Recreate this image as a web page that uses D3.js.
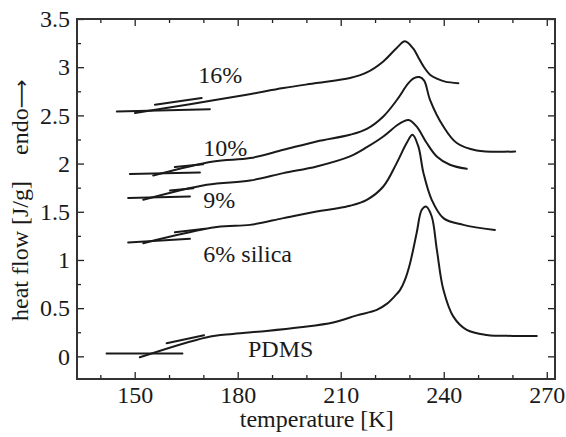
<!DOCTYPE html>
<html><head><meta charset="utf-8">
<script src="https://cdn.jsdelivr.net/npm/d3@7"></script>
<style>
html,body{margin:0;padding:0;background:#fff;}
svg text{font-family:"Liberation Serif","Times New Roman",serif;fill:#1a1a1a;}
</style></head>
<body><svg id="c" width="566" height="437"></svg>
<script>
// ---- data (temperature K, heat flow J/g) ----
const xTicks = [150, 180, 210, 240, 270];
const yTicks = [0, 0.5, 1, 1.5, 2, 2.5, 3, 3.5];
const xLabel = "temperature [K]";
const yLabel = "heat flow [J/g]";
const yLabel2 = "endo";
const yArrow = "\u27F6";
const seriesNames = ["PDMS", "6% silica", "9%", "10%", "16%"];

const pdmsFlat = [[141.8, 0.03], [163.9, 0.03]];
const pdmsBar = [[159.3, 0.136], [170.2, 0.219]];
const pdmsCurve = [[151.5, -0.01], [170.8, 0.196], [178.6, 0.233], [188.4, 0.264], [198.2, 0.302], [207.8, 0.352], [214.7, 0.425], [220.5, 0.482], [223.4, 0.544], [225.8, 0.627], [227.3, 0.69], [228.7, 0.794], [230.2, 0.967], [232.1, 1.278], [233.6, 1.52], [234.85, 1.555], [236.5, 1.451], [238.0, 1.105], [239.9, 0.69], [242.8, 0.412], [246.7, 0.274], [252.5, 0.222], [260.3, 0.212], [267.1, 0.212]];

const s6Flat = [[148.1, 1.181], [166.1, 1.219]];
const s6Bar = [[161.7, 1.287], [170.5, 1.323]];
const s6Curve = [[152.5, 1.174], [173.9, 1.341], [183.6, 1.364], [193.3, 1.434], [203.0, 1.503], [208.3, 1.531], [212.7, 1.562], [217.6, 1.624], [222.4, 1.762], [226.3, 2.005], [229.2, 2.213], [230.9, 2.299], [232.6, 2.178], [234.1, 1.901], [236.5, 1.624], [239.9, 1.434], [245.7, 1.364], [254.9, 1.312]];

const s9Flat = [[148.1, 1.642], [166.1, 1.658]];
const s9Bar = [[160.3, 1.72], [167.1, 1.745]];
const s9Curve = [[152.5, 1.624], [171.0, 1.78], [183.6, 1.824], [193.3, 1.901], [203.0, 1.97], [212.7, 2.074], [217.6, 2.17], [222.4, 2.281], [226.3, 2.395], [228.15, 2.436], [230.0, 2.45], [232.1, 2.385], [235.05, 2.213], [237.96, 2.074], [241.8, 1.988], [246.7, 1.946]];

const s10Flat = [[148.6, 1.891], [169.0, 1.908]];
const s10Bar = [[161.7, 1.964], [169.9, 1.993]];
const s10Curve = [[155.4, 1.876], [172.9, 2.022], [183.6, 2.057], [193.3, 2.143], [203.0, 2.23], [212.7, 2.299], [217.6, 2.36], [222.4, 2.489], [226.4, 2.662], [229.6, 2.829], [231.35, 2.886], [232.9, 2.898], [234.3, 2.86], [236.0, 2.662], [239.9, 2.385], [243.8, 2.213], [249.6, 2.136], [260.8, 2.126]];

const s16Flat = [[144.8, 2.541], [171.9, 2.564]];
const s16Bar = [[155.9, 2.611], [169.5, 2.68]];
const s16Curve = [[150.1, 2.524], [166.1, 2.616], [182.6, 2.714], [193.3, 2.784], [203.0, 2.836], [212.7, 2.888], [217.6, 2.946], [222.4, 3.06], [226.3, 3.199], [228.7, 3.268], [231.15, 3.192], [232.5, 3.109], [234.1, 3.008], [236.0, 2.922], [238.0, 2.881], [240.4, 2.85], [244.25, 2.834]];

// label anchor positions in data units (T, value)
const labelPos = [[183.0, -0.005], [170.0, 0.98], [170.0, 1.535], [170.0, 2.08], [168.5, 2.835]];

// ---- drawing ----
const W = 566, H = 437;
const m = {left: 77, top: 19, right: 11, bottom: 58};
const svg = d3.select("#c");
const x = d3.scaleLinear().domain([133.2, 272.4]).range([m.left, W - m.right]);
const y = d3.scaleLinear().domain([-0.235, 3.5]).range([H - m.bottom, m.top]);

const ink = "#222";
const xMinor = d3.range(140, 271, 10).filter(v => !xTicks.includes(v));
const yMinor = d3.range(-0.25, 3.51, 0.25).filter(v => v > -0.23 && !yTicks.some(t => Math.abs(t - v) < 1e-6));

function styleAxis(g) {
  g.select(".domain").remove();
  g.selectAll("line").attr("stroke", ink).attr("stroke-width", 1.3);
  g.selectAll("text").attr("font-size", 24).attr("fill", "#1a1a1a");
}
const fmt = d => String(d);

// bottom
svg.append("g").attr("transform", `translate(0,${H - m.bottom})`)
  .call(d3.axisBottom(x).tickValues(xTicks).tickSize(-7).tickPadding(7).tickFormat(fmt)).call(styleAxis);
svg.append("g").attr("transform", `translate(0,${H - m.bottom})`)
  .call(d3.axisBottom(x).tickValues(xMinor).tickSize(-4).tickFormat("")).call(styleAxis);
// top
svg.append("g").attr("transform", `translate(0,${m.top})`)
  .call(d3.axisTop(x).tickValues(xTicks).tickSize(-7).tickFormat("")).call(styleAxis);
svg.append("g").attr("transform", `translate(0,${m.top})`)
  .call(d3.axisTop(x).tickValues(xMinor).tickSize(-4).tickFormat("")).call(styleAxis);
// left
svg.append("g").attr("transform", `translate(${m.left},0)`)
  .call(d3.axisLeft(y).tickValues(yTicks).tickSize(-7).tickPadding(7).tickFormat(fmt)).call(styleAxis);
svg.append("g").attr("transform", `translate(${m.left},0)`)
  .call(d3.axisLeft(y).tickValues(yMinor).tickSize(-4).tickFormat("")).call(styleAxis);
// right
svg.append("g").attr("transform", `translate(${W - m.right},0)`)
  .call(d3.axisRight(y).tickValues(yTicks).tickSize(-7).tickFormat("")).call(styleAxis);
svg.append("g").attr("transform", `translate(${W - m.right},0)`)
  .call(d3.axisRight(y).tickValues(yMinor).tickSize(-4).tickFormat("")).call(styleAxis);

// frame
svg.append("rect").attr("x", m.left).attr("y", m.top)
  .attr("width", W - m.left - m.right).attr("height", H - m.top - m.bottom)
  .attr("fill", "none").attr("stroke", "#333").attr("stroke-width", 2);

// curves
const lineLin = d3.line().x(d => x(d[0])).y(d => y(d[1])).curve(d3.curveLinear);
const lineSmooth = d3.line().x(d => x(d[0])).y(d => y(d[1])).curve(d3.curveCatmullRom.alpha(0.5));
const sets = [
  [pdmsFlat, pdmsBar, pdmsCurve],
  [s6Flat, s6Bar, s6Curve],
  [s9Flat, s9Bar, s9Curve],
  [s10Flat, s10Bar, s10Curve],
  [s16Flat, s16Bar, s16Curve]
];
const gC = svg.append("g").attr("fill", "none").attr("stroke", "#1a1a1a").attr("stroke-width", 2).attr("stroke-linecap", "round").attr("stroke-linejoin", "round");
sets.forEach(([fl, br, cv]) => {
  gC.append("path").attr("d", lineLin(fl));
  gC.append("path").attr("d", lineLin(br));
  gC.append("path").attr("d", lineSmooth(cv));
});

// series labels
seriesNames.forEach((n, i) => {
  svg.append("text").attr("x", x(labelPos[i][0])).attr("y", y(labelPos[i][1]))
    .attr("font-size", 24).text(n);
});

// axis titles
svg.append("text").attr("x", (x(150) + x(270)) / 2 - 24).attr("y", 427)
  .attr("text-anchor", "middle").attr("font-size", 24).text(xLabel);
svg.append("text").attr("transform", "translate(28,321) rotate(-90)")
  .attr("font-size", 24).text(yLabel);
const t2 = svg.append("text").attr("transform", "translate(28,155) rotate(-90)")
  .attr("font-size", 24);
t2.append("tspan").text(yLabel2);
t2.append("tspan").attr("font-family", "DejaVu Sans, sans-serif").attr("font-size", 20).text(yArrow);
</script></body></html>
